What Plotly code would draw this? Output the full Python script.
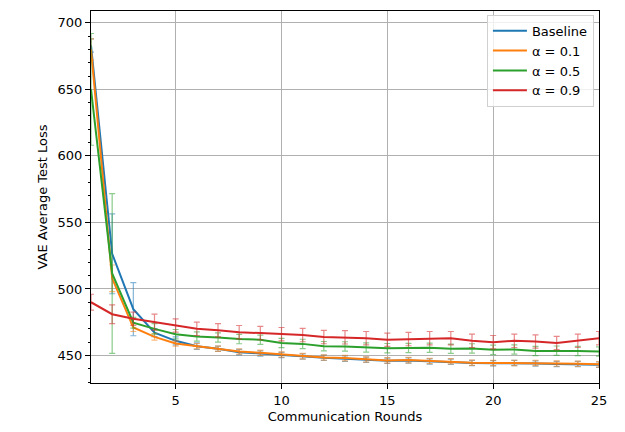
import plotly.graph_objects as go

rounds = list(range(1, 26))

baseline = [683, 526.4, 484.8, 467.2, 461, 457, 455, 452.5, 451.5, 450.3, 449.2, 448.2, 447.6, 446.8, 446.0,
            446.2, 445.5, 445.2, 444.3, 444.1, 444.3, 444.0, 443.6, 443.5, 443.1]
alpha01 = [680, 508, 471, 464, 459, 457, 455, 453, 452, 450.7, 449.5, 448.5, 448, 447, 446.3,
           446.5, 445.8, 445.6, 444.6, 444.4, 444.4, 444.4, 443.9, 443.7, 443.3]
alpha05 = [650, 511.6, 474.6, 470, 466, 464.3, 463.5, 462.3, 461.8, 459.4, 458.7, 457, 456.8, 456, 455.5,
           455.6, 455.8, 455, 455.3, 454.2, 454.5, 453.4, 453.6, 453.4, 453]
alpha09 = [490, 481, 477.6, 475, 472.5, 470, 469, 467.5, 466.8, 466, 465.3, 463.8, 463.6, 463, 461.8,
           462.3, 463, 463, 461, 460, 461, 460.5, 459.4, 461, 463]

err_baseline = [5, 30, 20, 3, 3, 2.5, 2, 2, 2, 2, 2, 2, 2, 2, 2, 2, 2, 2, 2, 2, 2, 2, 2, 2, 2]
err_alpha01 = [8, 10, 3, 2.5, 2, 2, 2, 2, 2, 2, 2, 2, 2, 2, 2, 2, 2, 2, 2, 2, 2, 2, 2, 2, 2]
err_alpha05 = [42, 60, 4, 4, 3.5, 3.5, 3.5, 3.5, 3.5, 3.5, 3.5, 3.5, 3.5, 3.5, 3.5, 3.5, 3.5, 3.5, 3.5, 3.5, 3.5, 3.5, 3.5, 3.5, 3.5]
err_alpha09 = [6, 7, 5, 6, 5, 5, 5, 5, 5, 5, 5, 5, 5, 5, 5, 5, 5, 5, 5, 5, 5, 5, 5, 5, 5]

names = ["Baseline", "α = 0.1", "α = 0.5", "α = 0.9"]
series = [baseline, alpha01, alpha05, alpha09]
errors = [err_baseline, err_alpha01, err_alpha05, err_alpha09]
colors = ["#1f77b4", "#ff7f0e", "#2ca02c", "#d62728"]
err_colors = ["rgba(31,119,180,0.55)", "rgba(255,127,14,0.55)", "rgba(44,160,44,0.55)", "rgba(214,39,40,0.55)"]

fig = go.Figure()
for name, ys, es, c, ec in zip(names, series, errors, colors, err_colors):
    fig.add_trace(go.Scatter(
        x=rounds, y=ys, mode="lines", name=name,
        line=dict(color=c, width=2),
        error_y=dict(type="data", array=es, visible=True, color=ec, thickness=1.2, width=3),
        cliponaxis=True,
    ))

axis_common = dict(
    showline=True, linecolor="black", linewidth=1, mirror=True,
    showgrid=True, gridcolor="#b0b0b0", gridwidth=1,
    ticks="outside", ticklen=5, tickcolor="black", tickwidth=1,
    zeroline=False,
    tickfont=dict(family="DejaVu Sans", size=13, color="black"),
    title_font=dict(family="DejaVu Sans", size=13, color="black"),
)

fig.update_layout(
    width=625, height=432,
    margin=dict(l=91, r=26, t=10, b=44),
    paper_bgcolor="white", plot_bgcolor="white",
    font=dict(family="DejaVu Sans", size=13, color="black"),
    xaxis=dict(range=[1, 25], tickvals=[5, 10, 15, 20, 25], title=dict(text="Communication Rounds", standoff=5), **axis_common),
    yaxis=dict(range=[429.3, 708.9], tickvals=[450, 500, 550, 600, 650, 700], title=dict(text="VAE Average Test Loss", standoff=7),
               minor=dict(dtick=10, tick0=0, ticks="outside", ticklen=2.5, tickcolor="black", showgrid=False), **axis_common),
    legend=dict(x=0.99, y=0.99, xanchor="right", yanchor="top", bgcolor="rgba(255,255,255,0.8)",
                bordercolor="#d0d0d0", borderwidth=1, font=dict(family="DejaVu Sans", size=13, color="black"),
                tracegroupgap=0, itemwidth=34),
    showlegend=True,
)

fig.write_html("out.html")
